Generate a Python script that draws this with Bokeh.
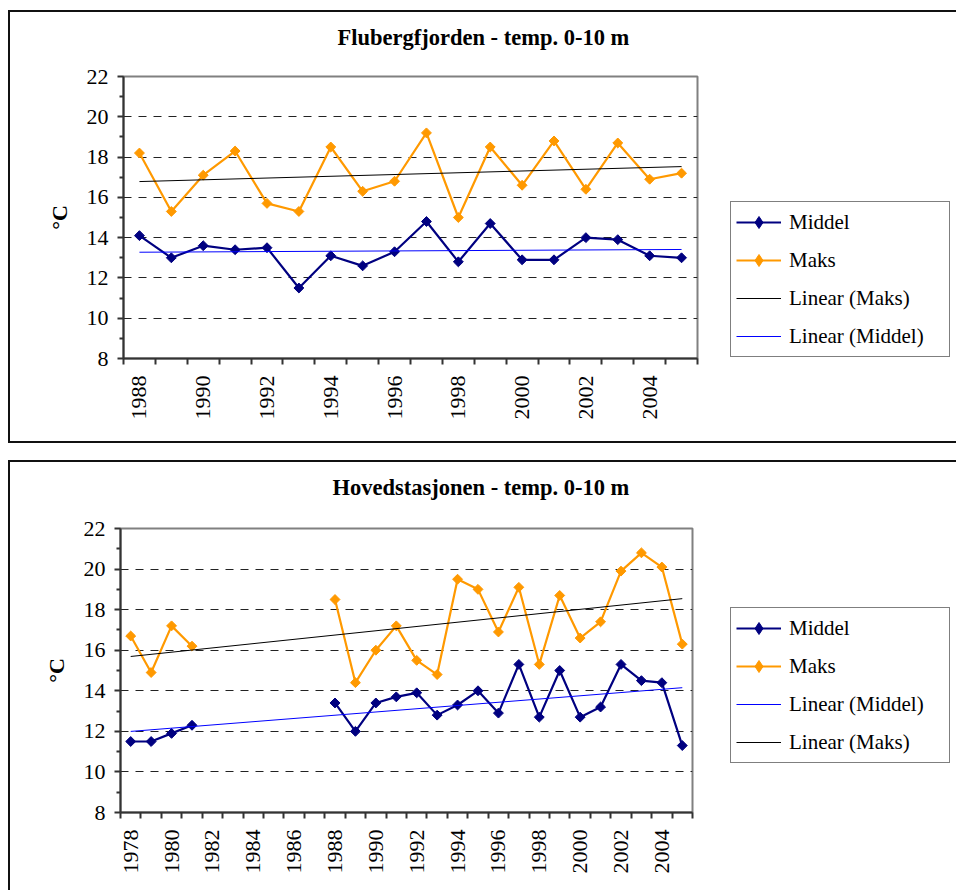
import numpy as np
from bokeh.plotting import figure
from bokeh.models import Range1d, FixedTicker, Legend, LegendItem
from bokeh.layouts import column, row
from bokeh.embed import file_html
from bokeh.resources import INLINE

# ---------------- data ----------------
years_top = list(range(1988, 2006))
middel_top = [14.1, 13.0, 13.6, 13.4, 13.5, 11.5, 13.1, 12.6, 13.3, 14.8,
              12.8, 14.7, 12.9, 12.9, 14.0, 13.9, 13.1, 13.0]
maks_top = [18.2, 15.3, 17.1, 18.3, 15.7, 15.3, 18.5, 16.3, 16.8, 19.2,
            15.0, 18.5, 16.6, 18.8, 16.4, 18.7, 16.9, 17.2]

years_bot = list(range(1978, 2006))
middel_bot = [11.5, 11.5, 11.9, 12.3, None, None, None, None, None, None,
              13.4, 12.0, 13.4, 13.7, 13.9, 12.8, 13.3, 14.0, 12.9, 15.3,
              12.7, 15.0, 12.7, 13.2, 15.3, 14.5, 14.4, 11.3]
maks_bot = [16.7, 14.9, 17.2, 16.2, None, None, None, None, None, None,
            18.5, 14.4, 16.0, 17.2, 15.5, 14.8, 19.5, 19.0, 16.9, 19.1,
            15.3, 18.7, 16.6, 17.4, 19.9, 20.8, 20.1, 16.3]

y_ticks = [8, 10, 12, 14, 16, 18, 20, 22]
title_top = "Flubergfjorden - temp. 0-10 m"
title_bot = "Hovedstasjonen - temp. 0-10 m"
legend_top = ["Middel", "Maks", "Linear (Maks)", "Linear (Middel)"]
legend_bot = ["Middel", "Maks", "Linear (Middel)", "Linear (Maks)"]

NAVY = "#000080"
ORANGE = "#FF9900"
BLUE = "#0000FF"
FONT = "Liberation Serif"
TOTAL_W = 948
BORDER = 2
EDGE = f"{BORDER}px solid #111"

STYLE = {
    "Middel": dict(color=NAVY, marker=True),
    "Maks": dict(color=ORANGE, marker=True),
    "Linear (Maks)": dict(color="black", marker=False),
    "Linear (Middel)": dict(color=BLUE, marker=False),
}


def build_chart(title, years, middel, maks, frame_left, frame_w, frame_top,
                frame_h, fig_h, right_pad, title_offset, title_lift, css):
    n = len(years)
    xs = np.arange(n) + 0.5
    mid = np.array([np.nan if v is None else v for v in middel], dtype=float)
    mak = np.array([np.nan if v is None else v for v in maks], dtype=float)

    bottom_border = BORDER if "border-bottom" in css else 0
    canvas_h = fig_h - BORDER - bottom_border
    fig_w = BORDER + frame_left + frame_w + right_pad
    p = figure(width=fig_w, height=fig_h, output_backend="svg",
               toolbar_location=None,
               x_range=Range1d(0, n), y_range=Range1d(8, 22),
               min_border_left=frame_left, min_border_right=right_pad,
               min_border_top=frame_top,
               min_border_bottom=canvas_h - frame_top - frame_h,
               background_fill_color="white", border_fill_color="white")
    p.styles = css
    p.outline_line_color = "#808080"
    p.outline_line_width = 2

    p.title.text = title
    p.title.align = "left"
    p.title.offset = title_offset
    p.title.text_font = FONT
    p.title.text_font_style = "bold"
    p.title.text_font_size = "22.5px"
    p.title.text_color = "black"
    try:
        p.title.padding = dict(left=0, right=0, top=0, bottom=title_lift)
        p.title.standoff = 4
    except Exception:
        p.title.standoff = 38

    p.xgrid.visible = False
    p.ygrid.ticker = FixedTicker(ticks=y_ticks[1:-1])
    p.ygrid.grid_line_color = "#222222"
    p.ygrid.grid_line_width = 1
    p.ygrid.grid_line_dash = "8 7"

    ya = p.yaxis[0]
    ya.ticker = FixedTicker(ticks=y_ticks,
                            minor_ticks=[v + 1 for v in y_ticks[:-1]])
    ya.major_tick_out = 6
    ya.major_tick_in = 0
    ya.minor_tick_out = 4
    ya.minor_tick_in = 0
    ya.axis_line_width = 2
    ya.axis_line_color = "#333333"
    ya.major_tick_line_color = "#333333"
    ya.minor_tick_line_color = "#333333"
    ya.major_tick_line_width = 2
    ya.minor_tick_line_width = 2
    ya.major_label_text_font = FONT
    ya.major_label_text_font_size = "22px"
    ya.major_label_text_color = "black"
    ya.major_label_standoff = 9
    ya.axis_label = "°C"
    ya.axis_label_text_font = FONT
    ya.axis_label_text_font_style = "bold"
    ya.axis_label_text_font_size = "22px"
    ya.axis_label_text_color = "black"
    ya.axis_label_standoff = 12

    xa = p.xaxis[0]
    label_idx = list(range(0, n - 1, 2))
    centers = [i + 0.5 for i in label_idx]
    xa.ticker = FixedTicker(ticks=centers, minor_ticks=list(range(0, n + 1)))
    xa.major_label_overrides = {c: str(years[i]) for c, i in zip(centers, label_idx)}
    xa.major_tick_out = 0
    xa.major_tick_in = 0
    xa.minor_tick_out = 6
    xa.minor_tick_in = 0
    xa.axis_line_width = 2
    xa.axis_line_color = "#333333"
    xa.minor_tick_line_color = "#333333"
    xa.minor_tick_line_width = 2
    xa.major_label_orientation = np.pi / 2
    xa.major_label_text_font = FONT
    xa.major_label_text_font_size = "22px"
    xa.major_label_text_color = "black"
    xa.major_label_standoff = 11

    p.line(xs, mid, line_color=NAVY, line_width=2.2)
    p.scatter(xs, mid, marker="square", angle=np.pi / 4, size=7,
              fill_color=NAVY, line_color=NAVY)
    p.line(xs, mak, line_color=ORANGE, line_width=2.2)
    p.scatter(xs, mak, marker="square", angle=np.pi / 4, size=7,
              fill_color=ORANGE, line_color=ORANGE)

    def trend(vals):
        ok = ~np.isnan(vals)
        k, b = np.polyfit(xs[ok], vals[ok], 1)
        tx = np.array([xs[0], xs[-1]])
        return tx, k * tx + b

    tx, ty = trend(mak)
    p.line(tx, ty, line_color="black", line_width=1)
    tx, ty = trend(mid)
    p.line(tx, ty, line_color=BLUE, line_width=1)
    return p


def legend_fig(labels, w, h, css, loc):
    lf = figure(width=w, height=h, output_backend="svg", toolbar_location=None,
                x_range=Range1d(0, 1), y_range=Range1d(0, 1),
                x_axis_location=None, y_axis_location=None,
                min_border_left=0, min_border_right=0,
                min_border_top=0, min_border_bottom=0,
                outline_line_color=None,
                background_fill_color="white", border_fill_color="white")
    lf.grid.visible = False
    lf.styles = css
    items = []
    for lab in labels:
        st = STYLE[lab]
        rs = [lf.line([np.nan], [np.nan], line_color=st["color"],
                      line_width=2.2 if st["marker"] else 1)]
        if st["marker"]:
            rs.append(lf.scatter([np.nan], [np.nan], marker="diamond", size=11,
                                 fill_color=st["color"], line_color=st["color"]))
        items.append(LegendItem(label=lab, renderers=rs))
    legend = Legend(items=items, location=loc,
                    label_text_font=FONT, label_text_font_size="21px",
                    label_text_color="black",
                    glyph_width=45, glyph_height=30, label_height=30,
                    label_width=155, label_standoff=8, spacing=8,
                    padding=5, margin=0,
                    border_line_color="black", border_line_width=1,
                    background_fill_color="white", background_fill_alpha=1)
    lf.add_layout(legend, "center")
    return lf


# ---- top box ----
css_top_l = {"border-left": EDGE, "border-top": EDGE, "border-bottom": EDGE}
css_top_r = {"border-top": EDGE, "border-bottom": EDGE}
c1 = build_chart(title_top, years_top, middel_top, maks_top,
                 frame_left=113, frame_w=572, frame_top=64, frame_h=278,
                 fig_h=433, right_pad=20, title_offset=214, title_lift=25,
                 css=css_top_l)
l1 = legend_fig(legend_top, TOTAL_W - c1.width, 433, css_top_r, loc=(15, 1))
box1 = row(c1, l1, spacing=0)

# ---- bottom box ----
css_bot_l = {"border-left": EDGE, "border-top": EDGE}
css_bot_r = {"border-top": EDGE}
c2 = build_chart(title_bot, years_bot, middel_bot, maks_bot,
                 frame_left=110, frame_w=570, frame_top=66, frame_h=282,
                 fig_h=430, right_pad=20, title_offset=212, title_lift=27,
                 css=css_bot_l)
l2 = legend_fig(legend_bot, TOTAL_W - c2.width, 430, css_bot_r, loc=(20, 49))
box2 = row(c2, l2, spacing=0)

page = column(box1, box2, spacing=17, margin=(10, 0, 0, 8))
open("out.html", "w").write(file_html(page, INLINE))
